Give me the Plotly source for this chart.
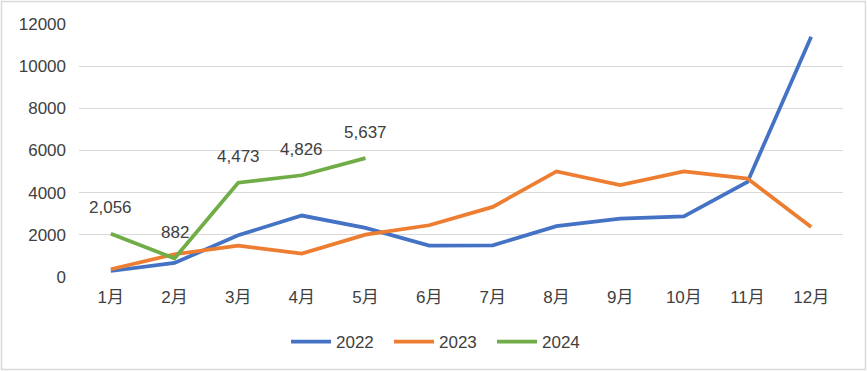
import plotly.graph_objects as go

months = ["1月", "2月", "3月", "4月", "5月", "6月", "7月", "8月", "9月", "10月", "11月", "12月"]
s2022 = [285, 665, 1980, 2915, 2330, 1490, 1505, 2410, 2770, 2880, 4510, 11400]
s2023 = [365, 1080, 1490, 1110, 2010, 2455, 3325, 5005, 4355, 5005, 4670, 2375]
s2024 = [2056, 882, 4473, 4826, 5637]
y_ticks = [0, 2000, 4000, 6000, 8000, 10000, 12000]

FONT = "Liberation Sans, Noto Sans CJK SC, sans-serif"
TXT = "#404040"

fig = go.Figure()
for name, vals, color in [("2022", s2022, "#4472C4"), ("2023", s2023, "#ED7D31"), ("2024", s2024, "#70AD47")]:
    fig.add_trace(go.Scatter(x=months[:len(vals)], y=vals, mode="lines", name=name,
                             line=dict(color=color, width=3.75)))

for m, v in zip(months, s2024):
    fig.add_annotation(x=m, y=v, text=f"{v:,}", showarrow=False, yshift=26,
                       font=dict(family=FONT, size=17, color=TXT))

L, R, T, B = 79, 24, 24, 94
W, H = 867, 371
pw, ph = W - L - R, H - T - B
fig.add_shape(type="rect", xref="paper", yref="paper",
              x0=-(L - 1.5) / pw, x1=1 + (R - 1.5) / pw, y0=-(B - 1.5) / ph, y1=1 + (T - 1.5) / ph,
              line=dict(color="#d9d9d9", width=1.5), layer="below")

fig.update_layout(
    width=W, height=H, margin=dict(l=L, r=R, t=T, b=B, autoexpand=False),
    paper_bgcolor="white", plot_bgcolor="white",
    font=dict(family=FONT, size=17, color=TXT),
    xaxis=dict(categoryorder="array", categoryarray=months, range=[-0.5, 11.5], showgrid=False,
               zeroline=False, showline=False, ticks="", tickfont=dict(size=17, color=TXT),
               ticklabelstandoff=8, automargin=False),
    yaxis=dict(range=[0, 12000], tickvals=y_ticks, ticktext=[str(t) for t in y_ticks],
               showgrid=True, gridcolor="#d9d9d9", gridwidth=1,
               zeroline=False, showline=False, ticks="", tickfont=dict(size=17, color=TXT),
               ticklabelstandoff=12, automargin=False),
    legend=dict(orientation="h", x=(440.5 - L) / pw, xanchor="center", y=-(342 - (H - B)) / ph,
                yanchor="middle", font=dict(size=17, color=TXT), entrywidth=48, itemwidth=40),
    showlegend=True,
)

fig.write_html("out.html", config={"displayModeBar": False},
               post_script="document.body.style.margin='0';document.body.style.padding='0';")
